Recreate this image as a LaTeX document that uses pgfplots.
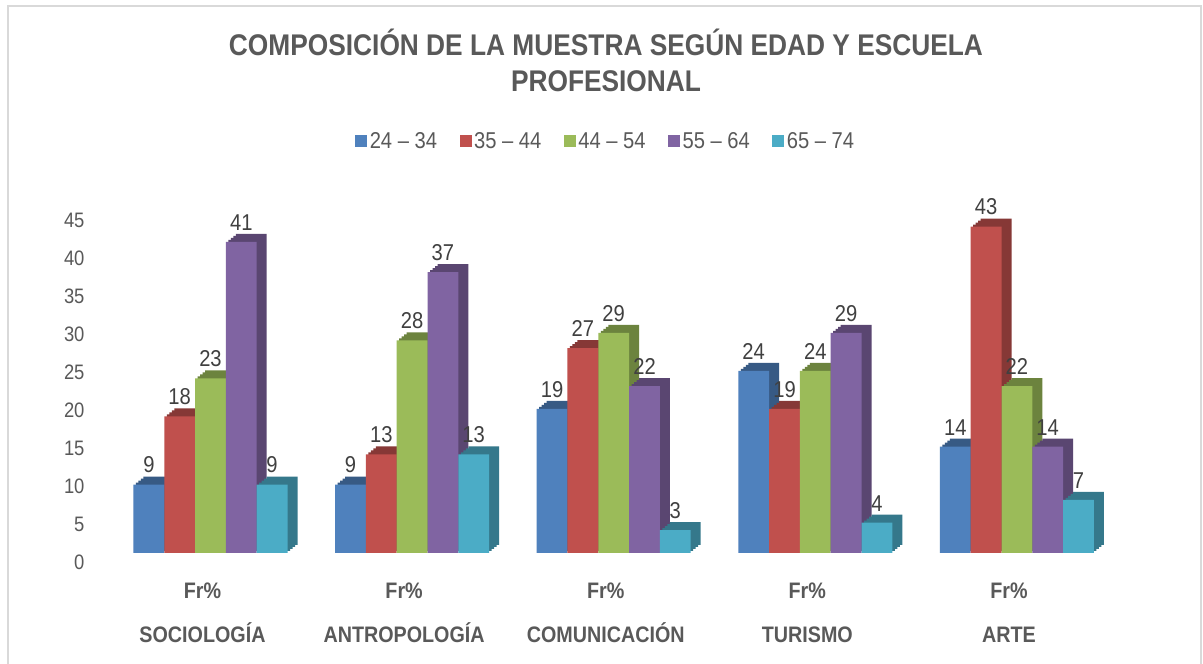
\documentclass[border=0pt]{standalone}
\usepackage{pgfplots}
\pgfplotsset{compat=1.18}
\usepackage{pgfplotstable}
\usepackage{fontspec}
\setmainfont{Liberation Sans}[FakeStretch=0.88]
\definecolor{txt}{HTML}{595959}
\definecolor{lab}{HTML}{404040}
\definecolor{bdr}{HTML}{D9D9D9}
\definecolor{c1F}{HTML}{4F81BD}\colorlet{c1D}{c1F!70!black}
\definecolor{c2F}{HTML}{C0504D}\colorlet{c2D}{c2F!70!black}
\definecolor{c3F}{HTML}{9BBB59}\colorlet{c3D}{c3F!70!black}
\definecolor{c4F}{HTML}{8064A2}\colorlet{c4D}{c4F!70!black}
\definecolor{c5F}{HTML}{4BACC6}\colorlet{c5D}{c5F!70!black}

\pgfplotstableread{
x a b c d e
0 9 18 23 41 9
1 9 13 28 37 13
2 19 27 29 22 3
3 24 19 24 29 4
4 14 43 22 14 7
}\datatable

\def\bw{0.1528}
\newcommand{\threedbar}[4]{%
  \addplot[ybar, bar width=\bw, bar shift=#2, fill=#3D, draw=none, forget plot, xshift=10bp, yshift=8bp] table[x=x, y=#1]{\datatable};
  \addplot[ybar, bar width=\bw, bar shift=#2, fill=#3D, draw=none, forget plot, xshift=7.5bp, yshift=6bp] table[x=x, y=#1]{\datatable};
  \addplot[ybar, bar width=\bw, bar shift=#2, fill=#3D, draw=none, forget plot, xshift=5bp, yshift=4bp] table[x=x, y=#1]{\datatable};
  \addplot[ybar, bar width=\bw, bar shift=#2, fill=#3D, draw=none, forget plot, xshift=2.5bp, yshift=2bp] table[x=x, y=#1]{\datatable};
  \addplot[ybar, bar width=\bw, bar shift=#2, fill=#3F, draw=none, nodes near coords,
    every node near coord/.append style={xshift=#4}] table[x=x, y=#1]{\datatable};
}

\begin{document}
\begin{tikzpicture}[x=1bp, y=1bp]
\path[use as bounding box, fill=white] (0,0) rectangle (1203,664);
\draw[bdr, line width=1.2bp] (8,0) -- (8,658) -- (1201,658) -- (1201,0);
\node[anchor=base, text=txt, font=\fontsize{30}{36}\selectfont\bfseries] at (606,664-56) {COMPOSICIÓN DE LA MUESTRA SEGÚN EDAD Y ESCUELA};
\node[anchor=base, text=txt, font=\fontsize{30}{36}\selectfont\bfseries] at (606,664-92) {PROFESIONAL};
\begin{axis}[
  at={(88bp,111bp)}, anchor=south west,
  x=201.6bp, y=7.59bp,
  xmin=-0.6076, xmax=4.531, ymin=0, ymax=45,
  clip=false,
  axis line style={draw=none},
  major tick length=0pt,
  /pgf/number format/assume math mode=true,
  ytick={0,5,...,45},
  xtick={0,1,2,3,4},
  xticklabels={{Fr\%\\SOCIOLOGÍA},{Fr\%\\ANTROPOLOGÍA},{Fr\%\\COMUNICACIÓN},{Fr\%\\TURISMO},{Fr\%\\ARTE}},
  yticklabel style={font=\fontsize{21}{25}\selectfont, text=txt, yshift=-9bp},
  xticklabel style={font=\fontsize{22.5}{45}\selectfont\bfseries, text=txt, align=center, anchor=north, xshift=-8bp, yshift=-26bp},
  nodes near coords style={font=\fontsize{23}{27}\selectfont, text=lab, yshift=8bp},
  legend style={at={(0.5,1.206)}, anchor=center, draw=none, fill=none,
    legend columns=5, font=\fontsize{23}{27}\selectfont, text=txt,
    /tikz/every even column/.append style={column sep=20bp},
    nodes={inner sep=2.5bp}},
  legend image code/.code={\fill[#1] (0bp,-6bp) rectangle (12bp,6bp);},
]
\threedbar{a}{-0.3056}{c1}{-61.6bp}
\threedbar{b}{-0.1528}{c2}{-30.8bp}
\threedbar{c}{0}{c3}{0bp}
\threedbar{d}{0.1528}{c4}{30.8bp}
\threedbar{e}{0.3056}{c5}{61.6bp}
\legend{24 – 34, 35 – 44, 44 – 54, 55 – 64, 65 – 74}
\end{axis}
\end{tikzpicture}
\end{document}
